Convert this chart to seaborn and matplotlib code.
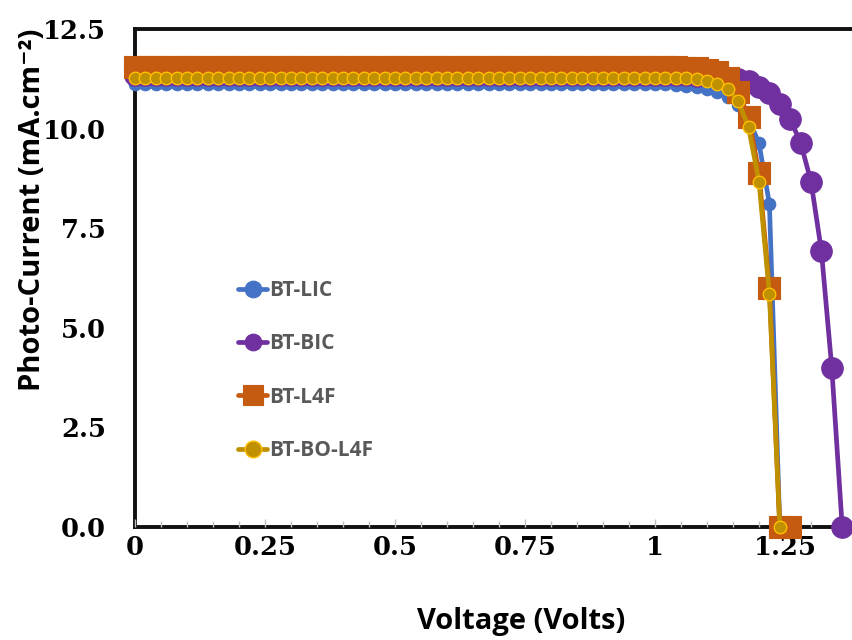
import matplotlib
matplotlib.use("Agg")
import matplotlib.pyplot as plt
import seaborn as sns
import numpy as np

# ---------------- data ----------------
voltage = [0.00, 0.02, 0.04, 0.06, 0.08, 0.10, 0.12, 0.14, 0.16, 0.18,
           0.20, 0.22, 0.24, 0.26, 0.28, 0.30, 0.32, 0.34, 0.36, 0.38,
           0.40, 0.42, 0.44, 0.46, 0.48, 0.50, 0.52, 0.54, 0.56, 0.58,
           0.60, 0.62, 0.64, 0.66, 0.68, 0.70, 0.72, 0.74, 0.76, 0.78,
           0.80, 0.82, 0.84, 0.86, 0.88, 0.90, 0.92, 0.94, 0.96, 0.98,
           1.00, 1.02, 1.04, 1.06, 1.08, 1.10, 1.12, 1.14, 1.16, 1.18,
           1.20, 1.22, 1.24, 1.26, 1.28, 1.30, 1.32, 1.34, 1.36]

j_bt_lic = [11.12, 11.12, 11.12, 11.12, 11.12, 11.12, 11.12, 11.12, 11.12, 11.12,
            11.12, 11.12, 11.12, 11.12, 11.12, 11.12, 11.12, 11.12, 11.12, 11.12,
            11.12, 11.12, 11.12, 11.12, 11.12, 11.12, 11.12, 11.12, 11.12, 11.12,
            11.12, 11.12, 11.12, 11.12, 11.12, 11.12, 11.12, 11.12, 11.12, 11.12,
            11.12, 11.12, 11.12, 11.12, 11.12, 11.12, 11.12, 11.12, 11.12, 11.12,
            11.11, 11.11, 11.10, 11.08, 11.05, 11.00, 10.93, 10.80, 10.58, 10.25,
            9.63, 8.11, 0.00]

j_bt_bic = [11.35, 11.35, 11.35, 11.35, 11.35, 11.35, 11.35, 11.35, 11.35, 11.35,
            11.35, 11.35, 11.35, 11.35, 11.35, 11.35, 11.35, 11.35, 11.35, 11.35,
            11.35, 11.35, 11.35, 11.35, 11.35, 11.35, 11.35, 11.35, 11.35, 11.35,
            11.35, 11.35, 11.35, 11.35, 11.35, 11.35, 11.35, 11.35, 11.35, 11.35,
            11.35, 11.35, 11.35, 11.35, 11.35, 11.35, 11.35, 11.35, 11.35, 11.35,
            11.35, 11.35, 11.35, 11.34, 11.33, 11.32, 11.30, 11.28, 11.25, 11.20,
            11.05, 10.89, 10.63, 10.23, 9.65, 8.67, 6.93, 3.99, 0.00]

j_bt_l4f = [11.55, 11.55, 11.55, 11.55, 11.55, 11.55, 11.55, 11.55, 11.55, 11.55,
            11.55, 11.55, 11.55, 11.55, 11.55, 11.55, 11.55, 11.55, 11.55, 11.55,
            11.55, 11.55, 11.55, 11.55, 11.55, 11.55, 11.55, 11.55, 11.55, 11.55,
            11.55, 11.55, 11.55, 11.55, 11.55, 11.55, 11.55, 11.55, 11.55, 11.55,
            11.55, 11.55, 11.55, 11.55, 11.55, 11.55, 11.55, 11.55, 11.55, 11.55,
            11.55, 11.55, 11.54, 11.53, 11.51, 11.48, 11.42, 11.28, 10.93, 10.28,
            8.88, 6.00, 0.00, 0.00]

j_bt_bo_l4f = [11.28, 11.28, 11.28, 11.28, 11.28, 11.28, 11.28, 11.28, 11.28, 11.28,
               11.28, 11.28, 11.28, 11.28, 11.28, 11.28, 11.28, 11.28, 11.28, 11.28,
               11.28, 11.28, 11.28, 11.28, 11.28, 11.28, 11.28, 11.28, 11.28, 11.28,
               11.28, 11.28, 11.28, 11.28, 11.28, 11.28, 11.28, 11.28, 11.28, 11.28,
               11.28, 11.28, 11.28, 11.28, 11.28, 11.28, 11.28, 11.28, 11.28, 11.28,
               11.28, 11.27, 11.27, 11.26, 11.24, 11.19, 11.13, 10.99, 10.69, 10.03,
               8.67, 5.85, 0.00]

series_names = ["BT-LIC", "BT-BIC", "BT-L4F", "BT-BO-L4F"]
series_values = [j_bt_lic, j_bt_bic, j_bt_l4f, j_bt_bo_l4f]

x_tick_values = [0, 0.25, 0.5, 0.75, 1.0, 1.25]
x_tick_labels = ["0", "0.25", "0.5", "0.75", "1", "1.25"]
y_tick_values = [0.0, 2.5, 5.0, 7.5, 10.0, 12.5]
y_tick_labels = ["0.0", "2.5", "5.0", "7.5", "10.0", "12.5"]

# ---------------- styles ----------------
styles = {
    "BT-LIC":    dict(color="#4472C4", marker="o", ms=9.0, mec="#4472C4", mew=0.8),
    "BT-BIC":    dict(color="#7030A0", marker="o", ms=15.5, mec="#7030A0", mew=0.8),
    "BT-L4F":    dict(color="#C55A11", marker="s", ms=15.5, mec="#C55A11", mew=0.8),
    "BT-BO-L4F": dict(color="#BF9000", marker="o", ms=9.0, mec="#FFC000", mew=1.0),
}

sns.set_style("white")
plt.rcParams["font.family"] = ["DejaVu Sans"]

fig = plt.figure(figsize=(8.53, 6.40), dpi=100)
W, H = 853, 640
left_px, top_px, bottom_px = 135, 29, 527
px_per_volt = 520
xmax = 1.4
ax = fig.add_axes([left_px / W, 1 - bottom_px / H,
                   xmax * px_per_volt / W, (bottom_px - top_px) / H])

for name, vals in zip(series_names, series_values):
    st = styles[name]
    sns.lineplot(x=voltage[:len(vals)], y=vals, ax=ax, label=name,
                 color=st["color"], linewidth=3.4, marker=st["marker"],
                 markersize=st["ms"], markerfacecolor=st["color"],
                 markeredgecolor=st["mec"], markeredgewidth=st["mew"],
                 estimator=None, sort=False, clip_on=False)

ax.set_xlim(0, xmax)
ax.set_ylim(0, 12.5)

for s in ["left", "bottom", "top", "right"]:
    ax.spines[s].set_visible(True)
    ax.spines[s].set_color("#111111")
    ax.spines[s].set_linewidth(2.8)
    ax.spines[s].set_zorder(0.5)

ax.set_xticks(x_tick_values)
ax.set_xticklabels(x_tick_labels)
ax.set_xticks(np.arange(0, 1.41, 0.05), minor=True)
ax.set_yticks(y_tick_values)
ax.set_yticklabels(y_tick_labels)

tick_font = dict(family="DejaVu Serif", weight="bold", size=18.5)
for lab in ax.get_xticklabels() + ax.get_yticklabels():
    lab.set_fontfamily(tick_font["family"])
    lab.set_fontweight(tick_font["weight"])
    lab.set_fontsize(tick_font["size"])
    lab.set_color("black")

ax.tick_params(axis="x", which="major", direction="in", length=6, width=1.0,
               color="#BFBFBF", pad=6, bottom=True)
ax.tick_params(axis="x", which="minor", direction="in", length=4, width=1.0,
               color="#BFBFBF", bottom=True)
ax.tick_params(axis="y", which="both", length=0, pad=21, left=True)

label_font = dict(family=["Open Sans", "DejaVu Sans"], weight="bold", size=21)
fig.text(521 / W, 1 - 622 / H, "Voltage (Volts)", ha="center", va="center",
         color="black", **label_font)
fig.text(33 / W, 1 - 210 / H, "Photo-Current (mA.cm⁻²)", ha="center",
         va="center", rotation=90, color="black", **label_font)

handles, labels = ax.get_legend_handles_labels()
leg = ax.legend(handles, labels, loc="upper left",
                bbox_to_anchor=(238 / W, 1 - 280 / H),
                bbox_transform=fig.transFigure, frameon=False,
                prop=dict(family=["Open Sans", "DejaVu Sans"], weight="bold", size=15),
                labelcolor="#595959", handlelength=1.4, handletextpad=0.1,
                labelspacing=1.55, borderpad=0, borderaxespad=0)
for h, name in zip(leg.legend_handles, labels):
    h.set_markersize(12 if name != "BT-L4F" else 14)
    h.set_linewidth(3.4)

fig.savefig("out.png", dpi=100)
